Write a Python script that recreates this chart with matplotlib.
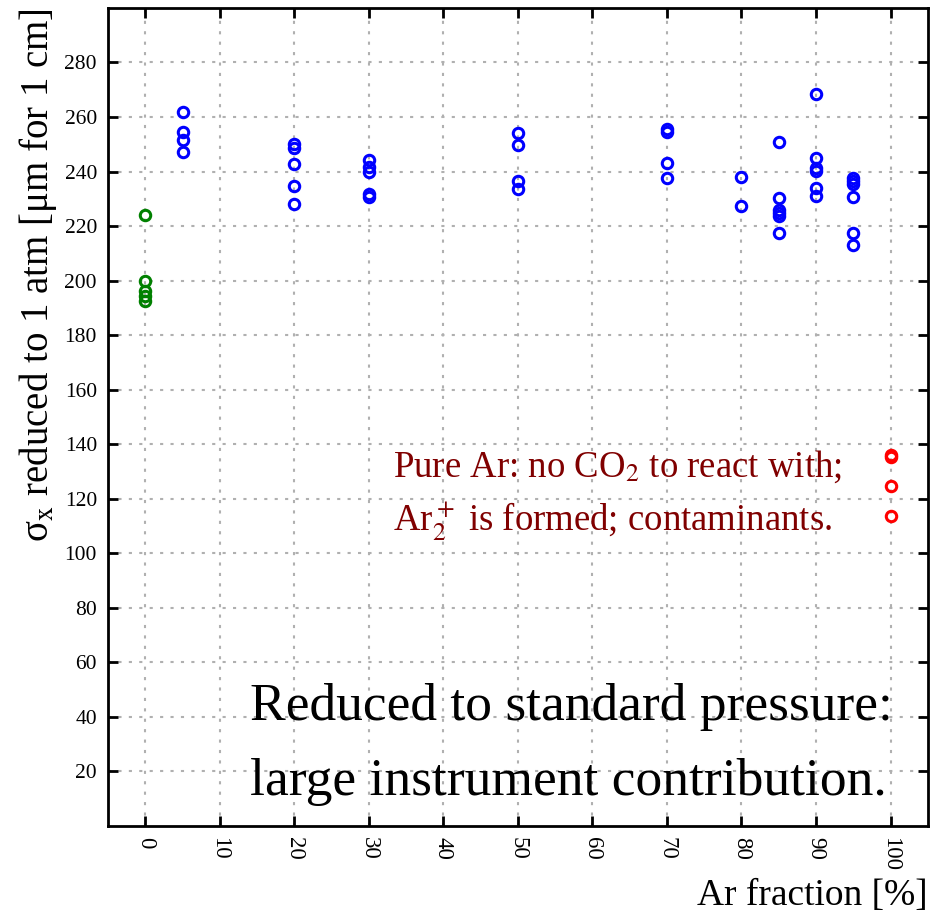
import matplotlib
matplotlib.use("Agg")
import matplotlib.pyplot as plt

plt.rcParams['font.family'] = ['Liberation Serif', 'DejaVu Serif']
plt.rcParams['mathtext.fontset'] = 'stix'

# data
x_co2 = [0, 0, 0, 0, 0]
y_co2 = [224, 200, 196.3, 194.5, 192.7]

x_mix = [5, 5, 5, 5,
         20, 20, 20, 20, 20,
         30, 30, 30, 30, 30,
         50, 50, 50, 50,
         70, 70, 70, 70,
         80, 80,
         85, 85, 85, 85, 85, 85,
         90, 90, 90, 90, 90, 90,
         95, 95, 95, 95, 95, 95]
y_mix = [262, 254.5, 251.4, 247.3,
         250.1, 248.7, 242.8, 234.7, 228.2,
         244.3, 241.6, 239.7, 231.8, 230.8,
         254, 249.9, 236.7, 233.5,
         255.6, 254.6, 243, 237.7,
         238.1, 227.2,
         251, 230.3, 226, 224.8, 223.6, 217.5,
         268.3, 244.9, 241.4, 240.1, 234.1, 231,
         237.7, 236.7, 235.5, 230.6, 217.6, 213.1]

x_ar = [100, 100, 100, 100]
y_ar = [136.2, 135.5, 124.6, 113.5]

xticks = [0, 10, 20, 30, 40, 50, 60, 70, 80, 90, 100]
yticks = [20, 40, 60, 80, 100, 120, 140, 160, 180, 200, 220, 240, 260, 280]

fig = plt.figure(figsize=(9.4, 9.13), dpi=100)
ax = fig.add_axes([0.115, 0.0953, 0.872, 0.896])

mk = dict(marker='o', linestyle='none', markersize=7.5, markerfacecolor='none', markeredgewidth=2.2)
ax.plot(x_co2, y_co2, markeredgecolor='#008000', **mk)
ax.plot(x_mix, y_mix, markeredgecolor='#0000ff', **mk)
ax.plot(x_ar, y_ar, markeredgecolor='#ff0000', **mk)

ax.set_xlim(-5, 105)
ax.set_ylim(0, 300)
ax.set_xticks(xticks)
ax.set_yticks(yticks)
ax.set_xticklabels([str(t) for t in xticks], rotation=270, fontsize=16.5)
ax.set_yticklabels([str(t) for t in yticks], fontsize=15.5)
ax.grid(True, linestyle=(0, (1.5, 3.5)), color='#b0b0b0', linewidth=1.5)
ax.tick_params(direction='in', length=7, width=2, top=True, right=True, pad=8)
for s in ax.spines.values():
    s.set_linewidth(2)

ax.set_ylabel('σ$_{\\rm x}$ reduced to 1 atm [μm for 1 cm]', fontsize=28, loc='top', labelpad=4)
ax.set_xlabel('Ar fraction [%]', fontsize=27, loc='right', labelpad=5)

ax.text(33.2, 128.2, r'Pure Ar: no CO$_2$ to react with;', color='#800000', fontsize=26.5,
        ha='left', va='baseline')
ax.text(33.2, 108.3, r'Ar$_2^+$ is formed; contaminants.', color='#800000', fontsize=26.5,
        ha='left', va='baseline')

ax.text(14.0, 38.7, 'Reduced to standard pressure:', fontsize=38.5, ha='left', va='baseline')
ax.text(14.0, 11.2, 'large instrument contribution.', fontsize=38.5, ha='left', va='baseline')

fig.savefig('out.png', dpi=100)
